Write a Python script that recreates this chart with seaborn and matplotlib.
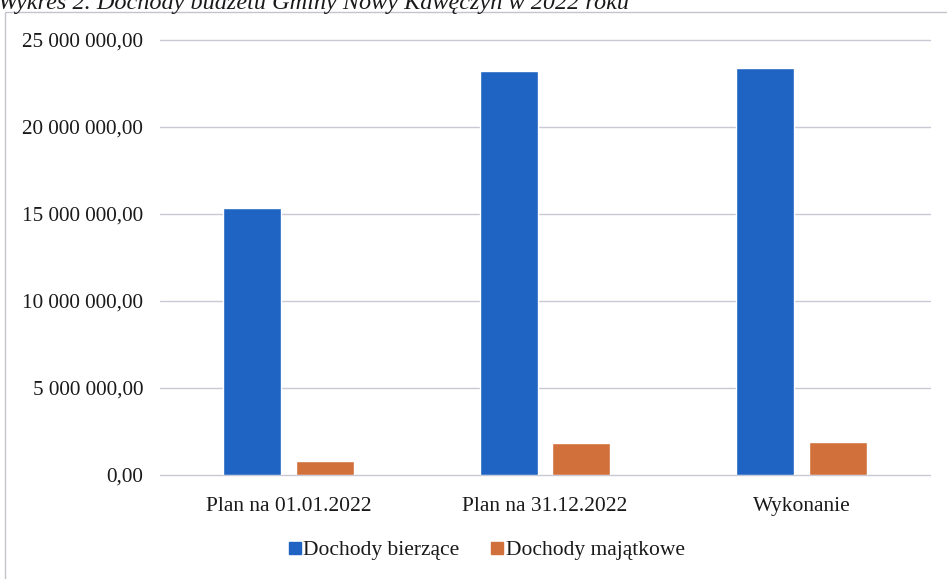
import matplotlib
matplotlib.use("Agg")
import matplotlib.pyplot as plt
import seaborn as sns
import pandas as pd
from matplotlib.ticker import FuncFormatter, MultipleLocator
from matplotlib.patches import Rectangle
from matplotlib.lines import Line2D

categories = ["Plan na 01.01.2022", "Plan na 31.12.2022", "Wykonanie"]
series_names = ["Dochody bierzące", "Dochody majątkowe"]
dochody_biezace = [15320000, 23200000, 23370000]
dochody_majatkowe = [800000, 1860000, 1900000]
title_text = "Wykres 2. Dochody budżetu Gminy Nowy Kawęczyn w 2022 roku"

colors = ["#1f64c2", "#d2703b"]

df = pd.DataFrame({
    "kategoria": categories * 2,
    "seria": [series_names[0]] * 3 + [series_names[1]] * 3,
    "wartosc": dochody_biezace + dochody_majatkowe,
})

sns.set_theme(style="white")
plt.rcParams["font.family"] = ["Liberation Serif", "DejaVu Serif"]

fig = plt.figure(figsize=(9.47, 5.79), dpi=100)
ax = fig.add_axes([160 / 947, 1 - 475 / 579, 770 / 947, 435 / 579])

sns.barplot(data=df, x="kategoria", y="wartosc", hue="seria",
            palette=colors, width=0.566, gap=0.2, ax=ax,
            order=categories, hue_order=series_names, legend=False,
            saturation=1, zorder=3)

ax.set_xlim(-0.5, 2.5)
ax.set_ylim(0, 25000000)
ax.yaxis.set_major_locator(MultipleLocator(5000000))

def fmt(v, pos):
    s = f"{v:,.2f}"
    return s.replace(",", " ").replace(".", ",")

ax.yaxis.set_major_formatter(FuncFormatter(fmt))
ax.grid(axis="y", color="#c9c9d6", linewidth=1.0, zorder=0)
ax.grid(axis="x", visible=False)
for gl in ax.get_ygridlines():
    gl.set_clip_on(False)
for sp in ax.spines.values():
    sp.set_visible(False)
ax.set_xlabel("")
ax.set_ylabel("")
ax.tick_params(axis="both", length=0, colors="#1a1a1a")
ax.tick_params(axis="y", pad=12, labelsize=15.2)
ax.tick_params(axis="x", pad=16, labelsize=15.5)

handles = [Line2D([0], [0], marker="s", linestyle="none", markersize=9,
                  markerfacecolor=c, markeredgecolor=c) for c in colors]
fig.legend(handles, series_names, loc="center", bbox_to_anchor=(486 / 947, 1 - 550 / 579),
           ncol=2, frameon=False, fontsize=15.5, handletextpad=0.05,
           columnspacing=1.4, handlelength=0.7,
           labelcolor="#1a1a1a")

fig.add_artist(Rectangle((5 / 947, -0.1), 1.2, 1.1 - 12 / 579, transform=fig.transFigure,
                         fill=False, edgecolor="#c4c4cc", linewidth=1.0))

fig.text(-2 / 947, 1 - 9 / 579, title_text, fontsize=17.5, style="italic",
         ha="left", va="baseline", color="#1a1a1a")

fig.savefig("out.png", dpi=100, facecolor="white")
